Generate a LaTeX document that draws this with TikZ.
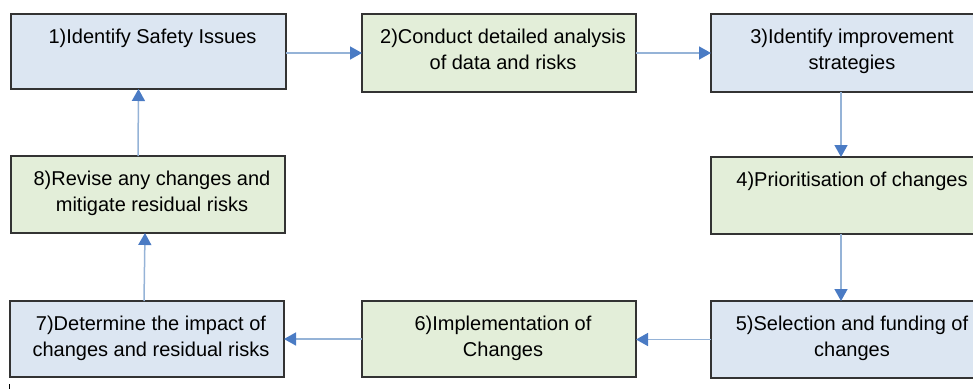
\documentclass[tikz,border=0pt]{standalone}
\usepackage{fontspec}
\setmainfont{Liberation Sans}
\usetikzlibrary{arrows.meta}
\definecolor{bluefill}{HTML}{DCE6F2}
\definecolor{greenfill}{HTML}{E3EED9}
\definecolor{boxline}{HTML}{333333}
\definecolor{connline}{HTML}{95B3D7}
\definecolor{connhead}{HTML}{4A7BC4}
\newcommand{\boxtext}[3]{\parbox[c][#1pt][t]{#2pt}{\centering\leftskip=8pt plus 1fil\fontsize{20}{26}\selectfont\rule{0pt}{29pt}#3}}
\tikzset{
  stepbox/.style={draw=boxline, line width=1.3pt, inner sep=0pt, outer sep=0pt},
  bluebox/.style={stepbox, fill=bluefill},
  greenbox/.style={stepbox, fill=greenfill},
  conn/.style={draw=connline, line width=1.5pt, -{Triangle[length=12pt,width=13pt,color=connhead]}}
}
\begin{document}
\begin{tikzpicture}[x=1pt,y=-1pt]
\useasboundingbox (0,0) rectangle (973,389);
\clip (0,0) rectangle (973,389);
\node[bluebox]  (b1) at (148.5,51.5) {\boxtext{75}{275}{1)Identify Safety Issues}};
\node[greenbox] (b2) at (499,53)    {\boxtext{78}{274}{2)Conduct detailed analysis\\of data and risks}};
\node[bluebox]  (b3) at (848,53)    {\boxtext{78}{274}{3)Identify improvement\\strategies}};
\node[greenbox] (b4) at (848,195.5) {\boxtext{77}{274}{4)Prioritisation of changes}};
\node[bluebox]  (b5) at (848,339.5) {\boxtext{77}{274}{5)Selection and funding of\\changes}};
\node[greenbox] (b6) at (499,339)   {\boxtext{76}{274}{6)Implementation of\\Changes}};
\node[bluebox]  (b7) at (147,339)   {\boxtext{76}{274}{7)Determine the impact of\\changes and residual risks}};
\node[greenbox] (b8) at (148,194.5) {\boxtext{77}{274}{8)Revise any changes and\\mitigate residual risks}};
\draw[conn] (b2.west -| b1.east) -- (b2.west);
\draw[conn] (b2.east) -- (b2.east -| b3.west);
\draw[conn] ([xshift=-7pt]b3.south) -- ([xshift=-7pt]b4.north);
\draw[conn] ([xshift=-7pt]b4.south) -- ([xshift=-7pt]b5.north);
\draw[conn] (b5.west) -- (b5.west -| b6.east);
\draw[conn] (b6.west) -- (b6.west -| b7.east);
\draw[conn] ([xshift=-3pt]b7.north) -- ([xshift=-3pt]b8.south);
\draw[conn] ([xshift=-10pt]b8.north) -- ([xshift=-10pt]b1.south);
\draw[line width=1pt, black] (9,384) -- (9,389);
\end{tikzpicture}
\end{document}
